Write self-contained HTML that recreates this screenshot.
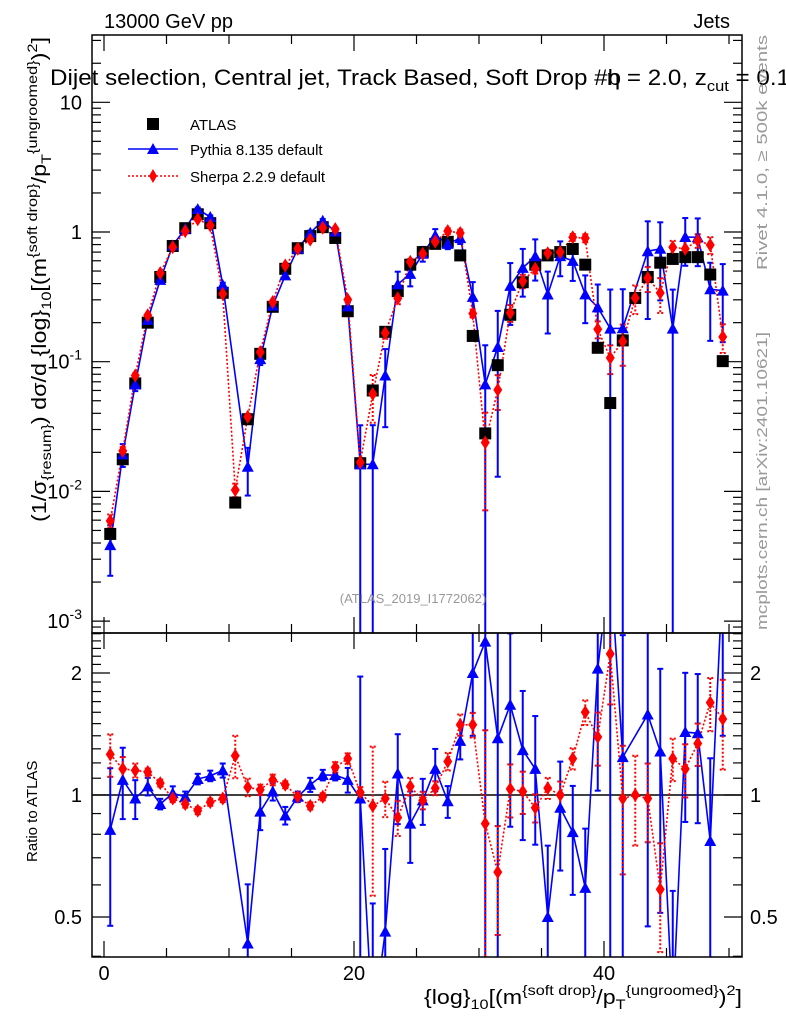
<!DOCTYPE html>
<html><head><meta charset="utf-8"><style>
html,body{margin:0;padding:0;background:#fff;width:786px;height:1024px;overflow:hidden;}
svg{display:block;font-family:"Liberation Sans",sans-serif;}
</style></head><body>
<svg id="chart" width="786" height="1024" viewBox="0 0 786 1024">
<defs>
<clipPath id="cm"><rect x="92" y="35" width="650" height="598"/></clipPath>
<clipPath id="cr"><rect x="92" y="633" width="650" height="324"/></clipPath>
</defs>
<rect x="0" y="0" width="786" height="1024" fill="#fff"/>
<g id="axes"></g>
<g id="main-marks" clip-path="url(#cm)"></g>
<g id="ratio-marks" clip-path="url(#cr)"></g>
<rect x="92" y="35" width="650" height="598" fill="none" stroke="#000" stroke-width="1.5"/>
<rect x="92" y="633" width="650" height="324" fill="none" stroke="#000" stroke-width="1.5"/>

<text x="104" y="28" font-size="20">13000 GeV pp</text>
<text x="730" y="28" font-size="20" text-anchor="end">Jets</text>
<text x="50" y="85" font-size="22" textLength="740" lengthAdjust="spacingAndGlyphs">Dijet selection, Central jet, Track Based, Soft Drop #b<tspan dx="-13">η = 2.0, z</tspan><tspan font-size="15" dy="6">cut</tspan><tspan dy="-6"> = 0.1</tspan></text>

<g>
<rect x="147" y="118" width="12" height="12" fill="#000"/>
<text x="190" y="130" font-size="15">ATLAS</text>
<line x1="128" y1="149" x2="178" y2="149" stroke="#00f" stroke-width="1.5"/>
<polygon points="153,143 159,154 147,154" fill="#00f"/>
<text x="190" y="155" font-size="15">Pythia 8.135 default</text>
<line x1="128" y1="176" x2="178" y2="176" stroke="#f00" stroke-width="1.5" stroke-dasharray="2,2"/>
<polygon points="153,169 157,176 153,183 149,176" fill="#f00"/>
<text x="190" y="182" font-size="15">Sherpa 2.2.9 default</text>
</g>

<text x="413" y="603" font-size="13" fill="#999" text-anchor="middle">(ATLAS_2019_I1772062)</text>
<text transform="translate(767,270) rotate(-90)" font-size="15" fill="#999" textLength="235" lengthAdjust="spacingAndGlyphs">Rivet 4.1.0, ≥ 500k events</text>
<text transform="translate(767,630) rotate(-90)" font-size="15" fill="#999" textLength="298" lengthAdjust="spacingAndGlyphs">mcplots.cern.ch [arXiv:2401.10621]</text>

<text transform="translate(46,522) rotate(-90)" font-size="20" textLength="485" lengthAdjust="spacingAndGlyphs">(1/σ<tspan font-size="14" dy="5">{resum}</tspan><tspan dy="-5">) dσ/d {log}</tspan><tspan font-size="14" dy="5">10</tspan><tspan dy="-5">[(m</tspan><tspan font-size="14" dy="-9">{soft drop}</tspan><tspan dy="9">/p</tspan><tspan font-size="14" dy="5">T</tspan><tspan font-size="14" dy="-14">{ungroomed}</tspan><tspan dy="9">)</tspan><tspan font-size="14" dy="-9">2</tspan><tspan dy="9">]</tspan></text>
<text transform="translate(37,862) rotate(-90)" font-size="15">Ratio to ATLAS</text>
<text x="742" y="1004" font-size="20" text-anchor="end" textLength="318" lengthAdjust="spacingAndGlyphs">{log}<tspan font-size="14" dy="5">10</tspan><tspan dy="-5">[(m</tspan><tspan font-size="14" dy="-9">{soft drop}</tspan><tspan dy="9">/p</tspan><tspan font-size="14" dy="5">T</tspan><tspan font-size="14" dy="-14">{ungroomed}</tspan><tspan dy="9">)</tspan><tspan font-size="14" dy="-9">2</tspan><tspan dy="9">]</tspan></text>
</svg>
<script>
const atlas = [0.0047,0.0177,0.068,0.2,0.45,0.78,1.07,1.37,1.17,0.34,0.0082,0.036,0.115,0.265,0.52,0.75,0.93,1.09,0.9,0.245,0.0165,0.06,0.17,0.35,0.56,0.70,0.81,0.84,0.66,0.158,0.028,0.094,0.23,0.41,0.56,0.66,0.70,0.74,0.56,0.128,0.048,0.146,0.31,0.45,0.58,0.62,0.64,0.64,0.47,0.101];
const pythiaRatio = [0.82,1.09,0.98,1.05,0.95,1.01,0.99,1.095,1.115,1.15,null,0.43,0.91,1.02,0.89,0.99,1.06,1.12,1.12,1.09,0.98,0.27,0.46,1.13,0.85,0.97,1.16,0.965,1.36,2.0,2.39,1.38,1.67,1.29,1.16,0.5,0.93,0.81,0.59,2.05,3.75,1.24,null,1.58,1.28,0.29,1.43,1.42,0.77,3.5];
const pythiaErr = [0.42,0.2,0.11,0.05,0.03,0.04,0.03,0.03,0.03,0.04,0,0.4,0.1,0.05,0.05,0.03,0.04,0.03,0.03,0.07,1,1,0.6,0.25,0.2,0.13,0.12,0.09,0.1,0.3,1,0.9,0.5,0.4,0.35,0.5,0.3,0.3,0.4,0.5,1,1,0,0.7,0.6,1,0.4,0.4,0.6,0.6];
const sherpaRatio = [1.26,1.16,1.15,1.14,1.07,0.98,0.95,0.915,0.96,0.98,1.25,1.045,1.03,1.09,1.06,0.99,0.94,0.99,1.17,1.23,1.015,0.94,0.98,0.88,1.05,0.97,1.04,1.21,1.49,1.49,0.85,0.645,1.035,1.02,0.93,1.04,1.0,1.23,1.6,1.39,2.23,0.98,1.0,0.98,0.585,1.23,1.16,1.34,1.69,1.54];
const sherpaErr = [0.12,0.07,0.04,0.02,0.02,0.02,0.02,0.02,0.02,0.02,0.12,0.05,0.03,0.03,0.02,0.02,0.02,0.02,0.03,0.03,0.03,0.4,0.1,0.1,0.05,0.05,0.04,0.05,0.06,0.07,0.7,0.3,0.15,0.12,0.08,0.06,0.08,0.06,0.07,0.15,0.25,0.35,0.25,0.22,0.3,0.12,0.15,0.12,0.15,0.25];
const xTickLabels = ["0","20","40"];
const xTickValues = [0,20,40];
const yMainTicks = [1,0,-1,-2,-3];
const ratioTicks = [0.5,1,2];

const NS = "http://www.w3.org/2000/svg";
function xs(v){ return 104 + 12.5*v; }
function ym(v){ return 232 - 129.7*Math.log10(v); }
function yr(v){ return 795 - 122*Math.log2(v); }
function mk(tag, attrs, parent){ const e=document.createElementNS(NS,tag); for(const k in attrs) e.setAttribute(k,attrs[k]); parent.appendChild(e); return e; }

const axes = document.getElementById('axes');
const mainG = document.getElementById('main-marks');
const ratG = document.getElementById('ratio-marks');

for (let v=0; v<=50; v+=5){
  const x = xs(v); const major = (v%20===0);
  const L = major?16:9;
  [[633,-1],[35,1],[957,-1],[633,1]].forEach(([y0,d])=>{
    const t = mk('line',{x1:x,x2:x,y1:y0,y2:y0+d*L,stroke:'#000','stroke-width':1.2},axes);
    
    
  });
}
xTickValues.forEach((v,i)=>{
  const t = mk('text',{x:xs(v),y:980,'font-size':20,'text-anchor':'middle'},axes);
  t.textContent = xTickLabels[i];
  
  
});
for (let d=-4; d<=1; d++){
  for (let m=1; m<10; m++){
    const v = m*Math.pow(10,d); const y = ym(v);
    if (y<35||y>633) continue;
    const L = m===1?18:9;
    [[92,1],[742,-1]].forEach(([x0,s])=>{
      const t = mk('line',{x1:x0,x2:x0+s*L,y1:y,y2:y,stroke:'#000','stroke-width':1.2},axes);
      
      
    });
  }
}
yMainTicks.forEach(p=>{
  const y = ym(Math.pow(10,p));
  const t = mk('text',{x:82,y:y+7,'font-size':20,'text-anchor':'end'},axes);
  
  
  if (p===1) t.textContent='10';
  else if (p===0) t.textContent='1';
  else { t.textContent='10'; const s=mk('tspan',{'font-size':14,dy:-9},t); s.textContent=String(p); }
});
[0.4,0.5,0.6,0.7,0.8,0.9,1,1.1,1.2,1.3,1.4,1.5,1.6,1.7,1.8,1.9,2,2.1,2.2,2.3,2.4,2.5].forEach(v=>{
  const y = yr(v); if (y<633||y>957) return;
  const L = ratioTicks.includes(v)?18:9;
  [[92,1],[742,-1]].forEach(([x0,s])=>{
    const t = mk('line',{x1:x0,x2:x0+s*L,y1:y,y2:y,stroke:'#000','stroke-width':1.2},axes);
    
    
  });
});
ratioTicks.forEach(v=>{
  const y = yr(v);
  const a = mk('text',{x:82,y:y+7,'font-size':20,'text-anchor':'end'},axes);
  a.textContent = String(v);
  
  
  const b = mk('text',{x:750,y:y+7,'font-size':20},axes);
  b.textContent = String(v);
  
  
});
const ref = mk('line',{x1:92,x2:742,y1:yr(1),y2:yr(1),stroke:'#000','stroke-width':1.5},ratG);



function errbar(g, x, yTop, yBot, color, dashed, name){
  const a = {stroke:color,'stroke-width':2}; if (dashed) a['stroke-dasharray']='2,2';
  const l = mk('line',Object.assign({x1:x,x2:x,y1:yTop,y2:yBot},a),g);
  
  
  [yTop,yBot].forEach(yy=>{
    const c = mk('line',Object.assign({x1:x-3,x2:x+3,y1:yy,y2:yy},a),g);
    
    
  });
}
function tri(g,x,y,name){
  const p = mk('polygon',{points:`${x},${y-6} ${x+6},${y+5} ${x-6},${y+5}`,fill:'#00f'},g);
  
  
}
function dia(g,x,y,name){
  const p = mk('polygon',{points:`${x},${y-7} ${x+4.5},${y} ${x},${y+7} ${x-4.5},${y}`,fill:'#f00'},g);
  
  
}

function series(g, ratios, errs, color, dashed, yfun, absolute, name, bottom){
  const pts=[];
  ratios.forEach((r,i)=>{
    if (r===null) return;
    const v = absolute ? atlas[i]*r : r;
    pts.push([xs(i+0.5), yfun(v), v, errs[i]]);
  });
  const attrs = {points:pts.map(p=>p[0]+','+p[1]).join(' '),fill:'none',stroke:color,'stroke-width':1.6};
  if (dashed) attrs['stroke-dasharray']='2,2';
  const pl = mk('polyline',attrs,g);
  
  
  pts.forEach(p=>{
    const e=p[3]; if (e>0){
      const hi = Math.max(yfun(p[2]*(1+e)), 0);
      const lo = (1-e)>0.001 ? Math.min(yfun(p[2]*(1-e)), bottom+10) : bottom+10;
      errbar(g,p[0],hi,lo,color,dashed,name+'-error-bar');
    }
  });
  return pts;
}

const pm = series(mainG, pythiaRatio, pythiaErr, '#00f', false, ym, true, 'pythia', 633);
const sm = series(mainG, sherpaRatio, sherpaErr, '#f00', true, ym, true, 'sherpa', 633);
atlas.forEach((v,i)=>{
  const r = mk('rect',{x:xs(i+0.5)-6,y:ym(v)-6,width:12,height:12,fill:'#000'},mainG);
  
  
});
pm.forEach(p=>tri(mainG,p[0],p[1],'pythia-point'));
sm.forEach(p=>dia(mainG,p[0],p[1],'sherpa-point'));

const pr = series(ratG, pythiaRatio, pythiaErr, '#00f', false, yr, false, 'pythia-ratio', 957);
const sr = series(ratG, sherpaRatio, sherpaErr, '#f00', true, yr, false, 'sherpa-ratio', 957);
pr.forEach(p=>tri(ratG,p[0],p[1],'pythia-ratio-point'));
sr.forEach(p=>dia(ratG,p[0],p[1],'sherpa-ratio-point'));
</script>
</body></html>
